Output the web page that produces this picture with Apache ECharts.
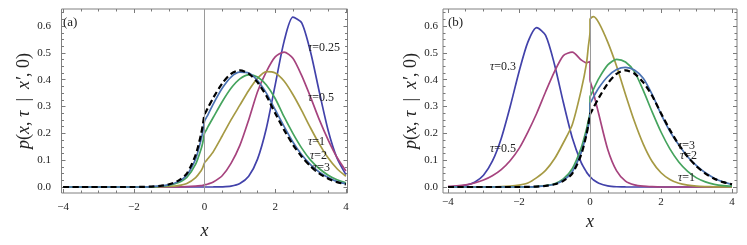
<!DOCTYPE html>
<html><head><meta charset="utf-8">
<script src="https://cdn.jsdelivr.net/npm/echarts@6/dist/echarts.min.js"></script>
<style>html,body{margin:0;padding:0;background:#fff}#c{width:747px;height:245px}</style>
</head><body><div id="c"></div>
<script>
// shared x sample positions (x = 0 appears twice: left / right limit)
const xs = [-4,-3.75,-3.5,-3.25,-3,-2.75,-2.5,-2.25,-2,-1.75,-1.5,-1.25,-1,-0.75,-0.5,-0.25,-0.1,-0.05,0,0,0.05,0.1,0.25,0.5,0.75,1,1.25,1.5,1.75,2,2.25,2.5,2.75,3,3.25,3.5,3.75,4];

// tick positions
const xTickMajor = [-4,-2,0,2,4];
const xTickMinor = [-3.5,-3,-2.5,-1.5,-1,-0.5,0.5,1,1.5,2.5,3,3.5];
const yTickMajor = [0,0.1,0.2,0.3,0.4,0.5,0.6];
const yTickMinor = [0.025,0.05,0.075,0.125,0.15,0.175,0.225,0.25,0.275,0.325,0.35,0.375,0.425,0.45,0.475,0.525,0.55,0.575,0.625,0.65];

// panel (a)
const a_tau025 = [0,0,0,0,0,0,0,0,0,0,0,0,0,0,0,0,0,0, 0,0,0,0, 0.0001,0.0007,0.0033,0.013,0.04,0.104,0.219,0.381,0.542,0.633,0.612,0.503,0.353,0.21,0.107,0.046];
const a_tau05 = [0,0,0,0,0,0,0,0,0,0,0,0, 0,0.0005,0.001,0.003,0.005,0.006,0.008,0.008,0.009,0.011, 0.019,0.042,0.088,0.155,0.25,0.355,0.43,0.485,0.503,0.48,0.415,0.335,0.25,0.175,0.11,0.06];
const a_tau1 = [0,0,0,0,0,0,0,0,0,0,0, 0.001,0.002,0.005,0.013,0.035,0.06,0.072,0.09,0.09,0.098,0.106, 0.132,0.19,0.25,0.305,0.36,0.405,0.43,0.425,0.395,0.345,0.285,0.22,0.16,0.108,0.068,0.04];
const a_tau2 = [0,0,0,0,0,0,0,0,0,0,0, 0.003,0.007,0.016,0.036,0.085,0.14,0.165,0.2,0.2,0.212,0.225, 0.26,0.318,0.368,0.403,0.418,0.41,0.38,0.33,0.262,0.2,0.145,0.1,0.068,0.044,0.027,0.016];
const a_tau3 = [0,0,0,0,0,0,0,0,0,0, 0.0015,0.004,0.009,0.02,0.045,0.105,0.175,0.205,0.245,0.245,0.258,0.27, 0.31,0.368,0.41,0.428,0.425,0.397,0.35,0.288,0.226,0.168,0.12,0.083,0.055,0.035,0.02,0.012];
// stationary density (dashed), same in both panels
const stationary = [0,0,0,0,0,0,0,0,0, 0.0005,0.0015,0.004,0.01,0.023,0.05,0.12,0.195,0.23,0.27,0.27,0.283,0.296, 0.333,0.386,0.422,0.435,0.423,0.39,0.34,0.275,0.213,0.158,0.113,0.077,0.05,0.031,0.018,0.01];

// panel (b)
const b_tau03 = [0.0005,0.002,0.0065,0.018,0.044,0.096,0.181,0.299,0.429,0.54,0.594,0.565,0.457,0.315,0.184,0.092,0.056,0.047,0.039,0.039,0.032,0.026, 0.014,0.0043,0.001,0.0002,0,0,0,0,0,0,0,0,0,0,0,0];
const b_tau05 = [0.002,0.004,0.008,0.015,0.026,0.042,0.065,0.098,0.143,0.205,0.275,0.355,0.43,0.49,0.503,0.474,0.463,0.465,0.468,0.4,0.375,0.35, 0.27,0.14,0.06,0.022,0.008,0.003,0.001,0,0,0,0,0,0,0,0,0];
const b_tau1 = [0,0,0,0,0,0.0003,0.001,0.003,0.007,0.015,0.035,0.062,0.105,0.165,0.232,0.36,0.46,0.52,0.58,0.625,0.633,0.635, 0.612,0.54,0.45,0.345,0.245,0.16,0.095,0.053,0.028,0.014,0.007,0.003,0.0015,0.0007,0.0003,0.0001];
const b_tau2 = [0,0,0,0,0,0,0,0,0,0, 0.002,0.005,0.012,0.03,0.068,0.145,0.215,0.245,0.28,0.335,0.35,0.365, 0.405,0.455,0.476,0.466,0.43,0.36,0.28,0.205,0.142,0.093,0.058,0.034,0.019,0.01,0.005,0.003];
const b_tau3 = [0,0,0,0,0,0,0,0,0, 0.0005,0.0015,0.004,0.01,0.025,0.057,0.128,0.198,0.225,0.26,0.31,0.323,0.336, 0.37,0.412,0.438,0.446,0.436,0.405,0.345,0.272,0.208,0.157,0.113,0.08,0.053,0.033,0.019,0.01];

const C = {blue:'#4242aa', magenta:'#a6437e', gold:'#a69a44', green:'#45a45e', steel:'#4a72b2', dash:'#000000'};
const SERIF = '"Liberation Serif", "DejaVu Serif", serif';
const TICK = '#7a7a7a';
const TXT = '#222';

const fmtX = v => v < 0 ? '\u2212' + Math.abs(v) : String(v);
const fmtY = v => v.toFixed(1);

function xAxes(gi, min, max, labelMargin, nameGap) {
  const base = {gridIndex: gi, type: 'value', min, max, axisLine: {show: false, onZero: false}, splitLine: {show: false}, axisPointer: {show: false}};
  return [
    Object.assign({}, base, {position: 'bottom',
      axisTick: {show: true, inside: true, length: 4, customValues: xTickMajor, lineStyle: {color: TICK}},
      axisLabel: {show: true, customValues: xTickMajor, formatter: fmtX, margin: labelMargin, fontFamily: SERIF, fontSize: 11, color: TXT},
      name: 'x', nameLocation: 'middle', nameGap, nameTextStyle: {fontFamily: SERIF, fontStyle: 'italic', fontSize: 18, color: TXT}}),
    Object.assign({}, base, {position: 'bottom', axisLabel: {show: false},
      axisTick: {show: true, inside: true, length: 2.5, customValues: xTickMinor, lineStyle: {color: TICK}}}),
    Object.assign({}, base, {position: 'top', axisLabel: {show: false},
      axisTick: {show: true, inside: true, length: 4, customValues: xTickMajor, lineStyle: {color: TICK}}}),
    Object.assign({}, base, {position: 'top', axisLabel: {show: false},
      axisTick: {show: true, inside: true, length: 2.5, customValues: xTickMinor, lineStyle: {color: TICK}}})
  ];
}
const YMIN = -0.0224, YMAX = 0.6636;
function yAxes(gi, labelMargin, nameGap) {
  const base = {gridIndex: gi, type: 'value', min: YMIN, max: YMAX, axisLine: {show: false, onZero: false}, splitLine: {show: false}, axisPointer: {show: false}};
  return [
    Object.assign({}, base, {position: 'left',
      axisTick: {show: true, inside: true, length: 4, customValues: yTickMajor, lineStyle: {color: TICK}},
      axisLabel: {show: true, customValues: yTickMajor, formatter: fmtY, margin: labelMargin, fontFamily: SERIF, fontSize: 11, color: TXT},
      name: '{i|p}({i|x}, {i|\u03c4}\u2002|\u2002{i|x\u2032}, 0)', nameLocation: 'middle', nameGap, nameRotate: 90,
      nameTextStyle: {fontFamily: SERIF, fontSize: 18, color: TXT, rich: {i: {fontFamily: SERIF, fontSize: 18, fontStyle: 'italic', color: TXT}}}}),
    Object.assign({}, base, {position: 'left', axisLabel: {show: false},
      axisTick: {show: true, inside: true, length: 2.5, customValues: yTickMinor, lineStyle: {color: TICK}}}),
    Object.assign({}, base, {position: 'right', axisLabel: {show: false},
      axisTick: {show: true, inside: true, length: 4, customValues: yTickMajor, lineStyle: {color: TICK}}}),
    Object.assign({}, base, {position: 'right', axisLabel: {show: false},
      axisTick: {show: true, inside: true, length: 2.5, customValues: yTickMinor, lineStyle: {color: TICK}}})
  ];
}

function line(name, arr, color, ai, extra) {
  return Object.assign({
    type: 'line', name, xAxisIndex: ai, yAxisIndex: ai,
    data: xs.map((x, i) => [x, arr[i]]),
    showSymbol: false, symbol: 'none', smooth: 0.25, silent: true, animation: false, clip: true,
    lineStyle: {color, width: 1.7}, itemStyle: {color}, z: 3
  }, extra || {});
}
const zeroLine = {silent: true, symbol: ['none', 'none'], label: {show: false}, animation: false,
  lineStyle: {color: '#9a9a9a', width: 1, type: 'solid'}, data: [{xAxis: 0}]};
const dashStyle = {color: C.dash, width: 2.2, type: [6, 3.5]};

const series = [
  line('a τ=0.25', a_tau025, C.blue, 0, {markLine: zeroLine}),
  line('a τ=0.5', a_tau05, C.magenta, 0),
  line('a τ=1', a_tau1, C.gold, 0),
  line('a τ=2', a_tau2, C.green, 0),
  line('a τ=3', a_tau3, C.steel, 0),
  line('a stationary', stationary, C.dash, 0, {lineStyle: dashStyle, z: 4}),
  line('b τ=0.3', b_tau03, C.blue, 4, {markLine: zeroLine}),
  line('b τ=0.5', b_tau05, C.magenta, 4),
  line('b τ=1', b_tau1, C.gold, 4),
  line('b τ=2', b_tau2, C.green, 4),
  line('b τ=3', b_tau3, C.steel, 4),
  line('b stationary', stationary, C.dash, 4, {lineStyle: dashStyle, z: 4})
];

function lbl(text, x, y, size) {
  return {type: 'text', x, y, z: 10, silent: true,
    style: {text, fill: TXT, font: (size || 12) + 'px ' + SERIF, verticalAlign: 'middle', align: 'left',
      rich: {i: {fontStyle: 'italic', fontFamily: SERIF, fontSize: size || 12, fill: TXT}}}};
}

const option = {
  animation: false,
  grid: [
    {left: 61.5, right: 399.5, top: 9, bottom: 52, show: true, borderColor: '#808080', borderWidth: 1, backgroundColor: 'transparent'},
    {left: 443, right: 10, top: 9, bottom: 52, show: true, borderColor: '#808080', borderWidth: 1, backgroundColor: 'transparent'}
  ],
  xAxis: [].concat(xAxes(0, -4.045, 4.045, 8.5, 29), xAxes(1, -4.14, 4.14, 4, 20)),
  yAxis: [].concat(yAxes(0, 10.5, 27), yAxes(1, 5, 22)),
  series,
  graphic: [
    lbl('(a)', 63, 22.5, 13),
    lbl('{i|\u03c4}=0.25', 308, 47.5),
    lbl('{i|\u03c4}=0.5', 308, 98),
    lbl('{i|\u03c4}=1', 308, 142),
    lbl('{i|\u03c4}=2', 310, 156),
    lbl('{i|\u03c4}=3', 313, 168),
    lbl('(b)', 448, 22.5, 13),
    lbl('{i|\u03c4}=0.3', 490, 66.5),
    lbl('{i|\u03c4}=0.5', 490, 149),
    lbl('{i|\u03c4}=3', 678, 145.5),
    lbl('{i|\u03c4}=2', 680, 156),
    lbl('{i|\u03c4}=1', 678, 177.5)
  ]
};
const chart = echarts.init(document.getElementById('c'), null, {renderer: 'canvas'});
chart.setOption(option);
</script></body></html>
